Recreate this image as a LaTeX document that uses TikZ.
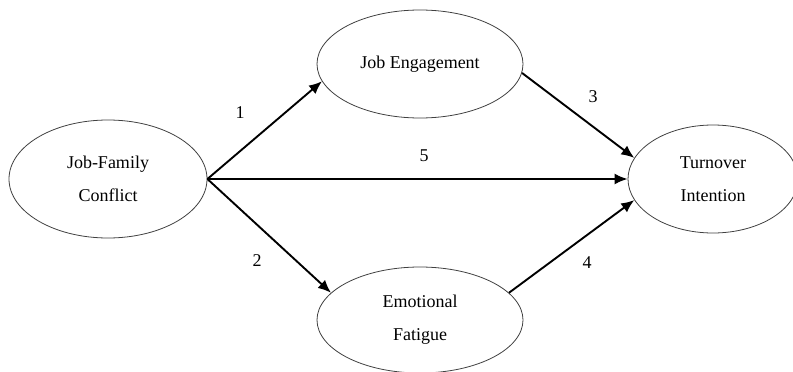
\documentclass[tikz,border=0pt]{standalone}
\usepackage{fontspec}
\setmainfont{Liberation Serif}
\usetikzlibrary{shapes.geometric,arrows.meta}
\begin{document}
\begin{tikzpicture}[x=1pt,y=-1pt,
  oval/.style={ellipse,draw=black!75,line width=0.8pt,inner sep=0pt,align=center,
    font=\fontsize{18}{33}\selectfont},
  path/.style={line width=1.9pt,-{Latex[length=13pt,width=11pt]}},
  num/.style={font=\fontsize{18}{22}\selectfont,inner sep=0pt}]
\useasboundingbox (0,0) rectangle (793,372);
\node[oval,minimum width=198pt,minimum height=118pt] (jf) at (108,179) {Job-Family\\Conflict};
\node[oval,minimum width=206pt,minimum height=108pt] (je) at (420,64) {Job Engagement};
\node[oval,minimum width=206pt,minimum height=106pt] (ef) at (420,320) {Emotional\\Fatigue};
\node[oval,minimum width=170pt,minimum height=108pt] (ti) at (713,179) {Turnover\\Intention};
\draw[path] (jf.east) -- (je.190);
\draw[path] (jf.east) -- (ef.163);
\draw[path] (jf.east) -- (ti.west);
\draw[path] (je.-5) -- (ti.165);
\draw[path] (ef.17) -- (ti.195);
\node[num] (n1) at (240,113) {1};
\node[num] (n2) at (257,261) {2};
\node[num] (n3) at (593,97) {3};
\node[num] (n4) at (587,263) {4};
\node[num] (n5) at (424,156) {5};
\end{tikzpicture}
\end{document}
